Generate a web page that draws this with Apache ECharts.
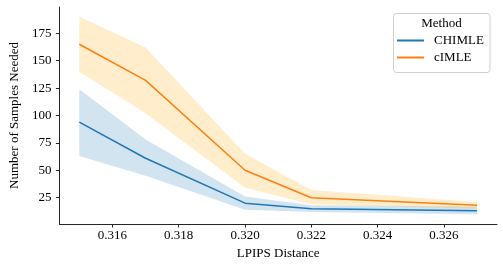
<!DOCTYPE html>
<html>
<head>
<meta charset="utf-8">
<script src="https://cdn.jsdelivr.net/npm/echarts@6/dist/echarts.min.js"></script>
<style>html,body{margin:0;padding:0;background:#fff}#c{width:503px;height:266px}</style>
</head>
<body>
<div id="c"></div>
<script>
const lpips = [0.315, 0.317, 0.320, 0.322, 0.327];
const chimleMean = [94, 61, 20, 15, 13];
const chimleLow  = [63, 45, 14, 12, 10];
const chimleHigh = [124, 78, 26, 18, 17];
const cimleMean = [165, 132, 50, 25, 18];
const cimleLow  = [140, 102, 34, 19, 15];
const cimleHigh = [190, 162, 65, 32, 21];
const xTicks = [0.316, 0.318, 0.320, 0.322, 0.324, 0.326];
const yTicks = [25, 50, 75, 100, 125, 150, 175];

const FONT = 'Liberation Serif';
const BLUE = '#1f77b4', ORANGE = '#ff7f0e';
const pairs = (ys) => lpips.map((x, i) => [x, ys[i]]);
// band data is given as [y, x] so that stacking acts on the y value
const bandLo = (lo) => lpips.map((x, i) => [lo[i], x]);
const bandDiff = (hi, lo) => lpips.map((x, i) => [hi[i] - lo[i], x]);

function band(name, lo, hi, color, z) {
  return [
    { type: 'line', stack: name, data: bandLo(lo), encode: { x: 1, y: 0 }, symbol: 'none',
      lineStyle: { opacity: 0 }, silent: true, z: z },
    { type: 'line', stack: name, data: bandDiff(hi, lo), encode: { x: 1, y: 0 }, symbol: 'none',
      lineStyle: { opacity: 0 }, areaStyle: { color: color, opacity: 1 }, silent: true, z: z }
  ];
}

const chart = echarts.init(document.getElementById('c'), null, { renderer: 'canvas' });
chart.setOption({
  animation: false,
  textStyle: { fontFamily: FONT },
  grid: { left: 50.7, right: 6, top: 7, bottom: 42, containLabel: false },
  xAxis: {
    type: 'value', min: 0.3144, max: 0.3276,
    name: 'LPIPS Distance', nameLocation: 'middle', nameGap: 20,
    nameTextStyle: { fontFamily: FONT, fontSize: 13, color: '#000' },
    splitLine: { show: false },
    axisLine: { lineStyle: { color: '#262626', width: 1 } },
    axisTick: { show: true, length: 3.5, customValues: xTicks, lineStyle: { color: '#262626' } },
    axisLabel: { customValues: xTicks, margin: 5, fontFamily: FONT, fontSize: 13, color: '#000',
      formatter: (v) => v.toFixed(3) }
  },
  yAxis: {
    type: 'value', min: 1, max: 199,
    name: 'Number of Samples Needed', nameLocation: 'middle', nameGap: 32,
    nameTextStyle: { fontFamily: FONT, fontSize: 13, color: '#000' },
    splitLine: { show: false },
    axisLine: { show: true, lineStyle: { color: '#262626', width: 1 } },
    axisTick: { show: true, length: 3.5, customValues: yTicks, lineStyle: { color: '#262626' } },
    axisLabel: { customValues: yTicks, margin: 8, fontFamily: FONT, fontSize: 13, color: '#000' }
  },
  legend: {
    data: ['CHIMLE', 'cIMLE'], orient: 'vertical', left: 397, top: 34, z: 100,
    itemWidth: 27, itemHeight: 2, itemGap: 4, padding: 0, icon: 'rect',
    textStyle: { fontFamily: FONT, fontSize: 13, color: '#000', padding: [0, 0, 0, 5] }
  },
  graphic: [
    { type: 'rect', shape: { x: 393.5, y: 13.5, width: 96.5, height: 59, r: 3 },
      style: { fill: 'rgba(255,255,255,0.8)', stroke: '#d0d0d0', lineWidth: 1 }, z: 50 },
    { type: 'text', x: 441.5, y: 24, z: 100,
      style: { text: 'Method', font: '13px "Liberation Serif"', fill: '#000', align: 'center', verticalAlign: 'middle' } }
  ],
  series: [
    ...band('b1', chimleLow, chimleHigh, 'rgba(31,119,180,0.2)', 1),
    ...band('b2', cimleLow, cimleHigh, 'rgba(255,165,0,0.2)', 2),
    { name: 'CHIMLE', type: 'line', data: pairs(chimleMean), symbol: 'none', color: BLUE,
      lineStyle: { color: BLUE, width: 1.5 }, z: 5 },
    { name: 'cIMLE', type: 'line', data: pairs(cimleMean), symbol: 'none', color: ORANGE,
      lineStyle: { color: ORANGE, width: 1.5 }, z: 5 }
  ]
});
</script>
</body>
</html>
